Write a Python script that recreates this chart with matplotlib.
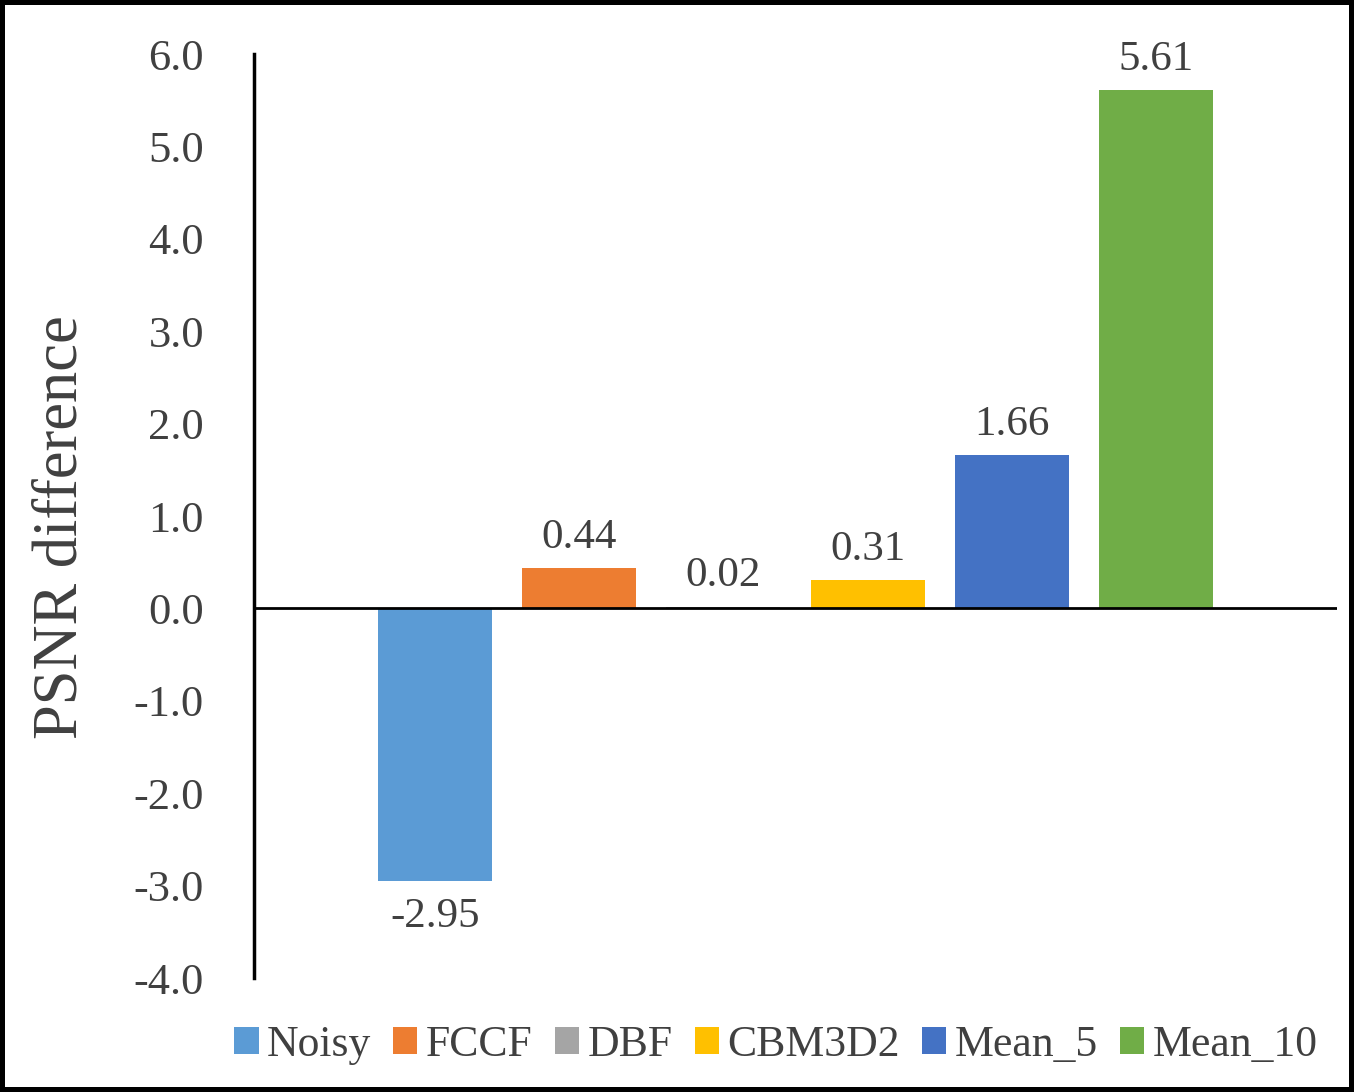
import matplotlib.pyplot as plt
from matplotlib.patches import Patch

plt.rcParams['font.family'] = ['Liberation Serif', 'DejaVu Serif']

methods = ["Noisy", "FCCF", "DBF", "CBM3D2", "Mean_5", "Mean_10"]
psnr_diff = [-2.95, 0.44, 0.02, 0.31, 1.66, 5.61]
colors = ["#5B9BD5", "#ED7D31", "#A5A5A5", "#FFC000", "#4472C4", "#70AD47"]
yticks = [-4.0, -3.0, -2.0, -1.0, 0.0, 1.0, 2.0, 3.0, 4.0, 5.0, 6.0]

TXT = "#404040"
W, H = 1354, 1092

fig = plt.figure(figsize=(W / 100, H / 100), dpi=100)
ax = fig.add_axes([254 / W, 1 - 978 / H, (1337 - 254) / W, (978 - 54) / H])

xs = list(range(len(methods)))
ax.bar(xs, psnr_diff, width=114 / 144, color=colors, zorder=2)

for x, v in zip(xs, psnr_diff):
    if v >= 0:
        ax.annotate(f"{v:.2f}", (x, v), xytext=(0, 8), textcoords="offset points",
                    ha="center", va="bottom", fontsize=31, color=TXT)
    else:
        ax.annotate(f"{v:.2f}", (x, v), xytext=(0, -12), textcoords="offset points",
                    ha="center", va="top", fontsize=31, color=TXT)

ax.axhline(0, color="black", lw=2, zorder=3)
ax.set_xlim(-1.257, 5 + 1.257)
ax.set_ylim(-4, 6)
ax.set_yticks(yticks)
ax.set_yticklabels([f"{t:.1f}" for t in yticks], fontsize=32, color=TXT)
ax.set_xticks([])
ax.tick_params(axis="y", length=0, pad=36)
for s in ("top", "right", "bottom"):
    ax.spines[s].set_visible(False)
ax.spines["left"].set_linewidth(2.5)
ax.spines["left"].set_color("black")

fig.text(62 / W, 1 - 527 / H, "PSNR difference", rotation=90,
         ha="center", va="center", fontsize=45, color=TXT)

handles = [Patch(facecolor=c, label=m) for m, c in zip(methods, colors)]
fig.legend(handles=handles, loc="center", bbox_to_anchor=(776 / W, 1 - 1045 / H),
           ncol=6, frameon=False, fontsize=31.5, labelcolor=TXT,
           handlelength=0.55, handleheight=0.55, handletextpad=0.2,
           columnspacing=0.5, borderpad=0)

fig.patch.set_edgecolor("black")
fig.patch.set_linewidth(6)
fig.savefig("out.png", dpi=100, facecolor="white", edgecolor="black")
